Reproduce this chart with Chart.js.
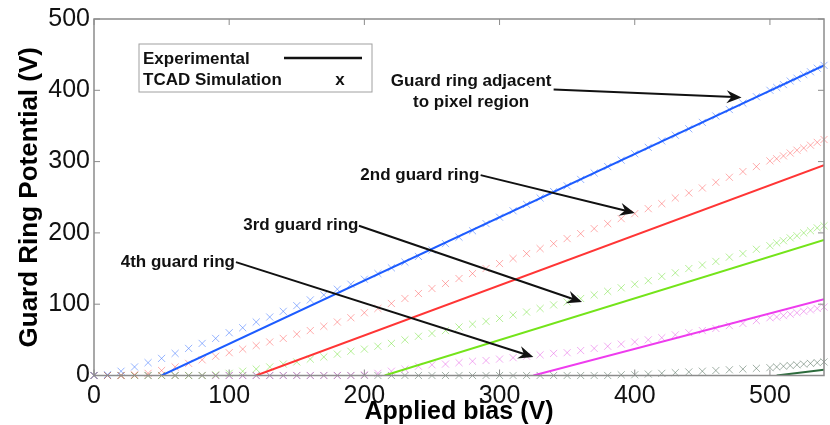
<!DOCTYPE html>
<html>
<head>
<meta charset="utf-8">
<script src="https://cdn.jsdelivr.net/npm/chart.js@4"></script>
<style>
  html, body { margin: 0; padding: 0; background: #fff; }
  #wrap { width: 830px; height: 425px; }
</style>
</head>
<body>
<div id="wrap"><canvas id="myChart" width="830" height="425"></canvas></div>
<script>
// simulated (TCAD) points, applied bias in V
const simBias = [0,10,20,30,40,50,60,70,80,90,
	100,110,120,130,140,150,160,170,180,190,
	200,210,220,230,240,250,260,270,280,290,
	300,310,320,330,340,350,360,370,380,390,
	400,410,420,430,440,450,460,470,480,490,
	500,505,510,515,520,525,530,535,540];
const simRing1 = [0,1,6,12,18,24,31,38,45,52,
	60,67,75,82,90,98,106,113,121,128,
	135,143,151,159,167,176,185,194,203,213,
	222,231,240,249,258,266,275,284,293,302,
	311,320,329,337,346,355,364,373,382,391,
	400,404,408,413,417,422,426,431,435];
const simRing2 = [0,0,0,1,3,7,12,17,22,27,
	32,37,42,47,52,58,63,69,75,81,
	88,94,101,108,115,122,129,136,143,150,
	157,164,171,178,185,192,199,206,213,220,
	227,234,241,249,256,263,271,278,286,293,
	301,304,308,312,316,319,323,327,331];
const simRing3 = [0,0,0,0,0,0,0,0,0,1,
	3,6,9,12,16,19,23,26,30,34,
	37,41,45,50,55,59,63,68,72,76,
	80,85,89,94,99,103,108,113,118,123,
	128,133,139,144,150,155,160,166,171,177,
	182,186,189,193,196,200,203,207,210];
const simRing4 = [0,0,0,0,0,0,0,0,0,0,
	0,0,0,0,0,0,0,0,0,0,
	1,3,6,9,13,15,16,18,20,21,
	23,25,27,29,31,32,35,38,41,44,
	47,50,53,57,60,63,66,70,73,77,
	81,82,84,86,88,90,92,94,96];
const simRing5 = [0,0,0,0,0,0,0,0,0,0,
	0,0,0,0,0,0,0,0,0,0,
	0,0,0,0,0,0,0,0,0,0,
	0,0,0,0,0,0,0,0,0,1,
	1,2,3,4,5,6,7,8,9,10,
	11,12,13,14,15,16,17,18,19];

// experimental lines (start of rise, end of sweep)
const expRing1X = [50, 540];   const expRing1Y = [0, 435];
const expRing2X = [120, 540];  const expRing2Y = [0, 295];
const expRing3X = [215, 540];  const expRing3Y = [0, 190];
const expRing4X = [325, 540];  const expRing4Y = [0, 107];
const expRing5X = [505, 540];  const expRing5Y = [0, 8];

const xTicks = [0, 100, 200, 300, 400, 500];
const yTicks = [0, 100, 200, 300, 400, 500];

const FONT = '"Liberation Sans", Arial, Helvetica, sans-serif';

function pts(xs, ys) {
	return xs.map((x, i) => ({ x: x, y: ys[i] }));
}

function simSet(ys, color) {
	return {
		type: 'scatter', data: pts(simBias, ys), showLine: false,
		pointStyle: 'crossRot', pointRadius: 5, pointBorderWidth: 1,
		borderColor: color, backgroundColor: color, order: 2, clip: false
	};
}
function expSet(xs, ys, color) {
	return {
		type: 'line', data: pts(xs, ys), borderColor: color, borderWidth: 2,
		pointRadius: 0, fill: false, tension: 0, order: 1
	};
}

// annotations: text and arrows, in data coordinates
const notes = [
	{ lines: ['Guard ring adjacent', 'to pixel region'], x: 279, y: 413, from: [340, 401], to: [479, 390] },
	{ lines: ['2nd guard ring'], x: 241, y: 281, from: [286, 281], to: [400, 228] },
	{ lines: ['3rd guard ring'], x: 153, y: 210, from: [196, 210], to: [361, 103] },
	{ lines: ['4th guard ring'], x: 62, y: 159, from: [105, 159], to: [325, 26] }
];

function arrow(ctx, x1, y1, x2, y2) {
	const a = Math.atan2(y2 - y1, x2 - x1);
	const len = 15, w = 6.5;
	const c = Math.cos(a), s = Math.sin(a);
	ctx.beginPath();
	ctx.moveTo(x1, y1);
	ctx.lineTo(x2 - c * 8, y2 - s * 8);
	ctx.stroke();
	ctx.beginPath();
	ctx.moveTo(x2, y2);
	ctx.lineTo(x2 - len * c + w * s, y2 - len * s - w * c);
	ctx.lineTo(x2 - 10 * c, y2 - 10 * s);
	ctx.lineTo(x2 - len * c - w * s, y2 - len * s + w * c);
	ctx.closePath();
	ctx.fill();
}

const extras = {
	id: 'extras',
	afterDraw(chart) {
		const ctx = chart.ctx;
		const a = chart.chartArea;
		const xs = chart.scales.x, ys = chart.scales.y;
		ctx.save();
		// frame
		ctx.strokeStyle = '#8c8c8c';
		ctx.lineWidth = 1.5;
		ctx.strokeRect(a.left, a.top, a.right - a.left, a.bottom - a.top);
		// inward ticks on all sides
		ctx.lineWidth = 1;
		ctx.beginPath();
		xTicks.forEach(v => {
			const px = xs.getPixelForValue(v);
			ctx.moveTo(px, a.bottom); ctx.lineTo(px, a.bottom - 6);
			ctx.moveTo(px, a.top); ctx.lineTo(px, a.top + 6);
		});
		yTicks.forEach(v => {
			const py = ys.getPixelForValue(v);
			ctx.moveTo(a.left, py); ctx.lineTo(a.left + 6, py);
			ctx.moveTo(a.right, py); ctx.lineTo(a.right - 6, py);
		});
		ctx.stroke();

		// legend box
		const lx = a.left + 45, ly = a.top + 25;
		ctx.fillStyle = '#fff';
		ctx.fillRect(lx, ly, 233, 48);
		ctx.strokeStyle = '#a0a0a0';
		ctx.strokeRect(lx, ly, 233, 48);
		ctx.fillStyle = '#111';
		ctx.font = 'bold 17px ' + FONT;
		ctx.textBaseline = 'middle';
		ctx.textAlign = 'left';
		ctx.fillText('Experimental', lx + 4, ly + 15);
		ctx.fillText('TCAD Simulation', lx + 4, ly + 36);
		ctx.strokeStyle = '#111';
		ctx.lineWidth = 2.5;
		ctx.beginPath();
		ctx.moveTo(lx + 145, ly + 14); ctx.lineTo(lx + 223, ly + 14);
		ctx.stroke();
		ctx.textAlign = 'center';
		ctx.fillText('x', lx + 201, ly + 36);

		// annotations
		ctx.strokeStyle = '#111';
		ctx.fillStyle = '#111';
		ctx.lineWidth = 2;
		notes.forEach(n => {
			const cx = xs.getPixelForValue(n.x), cy = ys.getPixelForValue(n.y);
			ctx.textAlign = 'center';
			n.lines.forEach((t, i) => ctx.fillText(t, cx, cy + i * 21));
			arrow(ctx, xs.getPixelForValue(n.from[0]), ys.getPixelForValue(n.from[1]),
				xs.getPixelForValue(n.to[0]), ys.getPixelForValue(n.to[1]));
		});
		ctx.restore();
	}
};

const ctx = document.getElementById('myChart').getContext('2d');
const myChart = new Chart(ctx, {
	type: 'scatter',
	data: {
		datasets: [
			expSet(expRing1X, expRing1Y, '#1d5cff'),
			expSet(expRing2X, expRing2Y, '#ff3535'),
			expSet(expRing3X, expRing3Y, '#74e41a'),
			expSet(expRing4X, expRing4Y, '#ee3cee'),
			expSet(expRing5X, expRing5Y, '#2c6b3c'),
			simSet(simRing1, 'rgba(80,130,255,0.6)'),
			simSet(simRing2, 'rgba(255,90,90,0.5)'),
			simSet(simRing3, 'rgba(110,225,50,0.5)'),
			simSet(simRing4, 'rgba(230,90,230,0.5)'),
			simSet(simRing5, 'rgba(70,100,80,0.5)')
		]
	},
	options: {
		responsive: false,
		animation: false,
		layout: { padding: { top: 18, right: 3, left: 0, bottom: 0 } },
		plugins: { legend: { display: false }, tooltip: { enabled: false } },
		scales: {
			x: {
				type: 'linear', min: 0, max: 540,
				afterBuildTicks: s => { s.ticks = xTicks.map(v => ({ value: v })); },
				afterFit: s => { s.height = 49.5; },
				grid: { display: false, drawTicks: false },
				border: { display: false },
				ticks: { color: '#111', padding: 6, maxRotation: 0, font: { family: FONT, size: 25 } },
				title: { display: true, text: 'Applied bias (V)', color: '#000', padding: 0,
					font: { family: FONT, size: 25, weight: 'bold', lineHeight: 1 } }
			},
			y: {
				type: 'linear', min: 0, max: 500,
				afterBuildTicks: s => { s.ticks = yTicks.map(v => ({ value: v })); },
				afterFit: s => { s.width = 94; },
				grid: { display: false, drawTicks: false },
				border: { display: false },
				ticks: { color: '#111', padding: 4, font: { family: FONT, size: 25 } },
				title: { display: true, text: 'Guard Ring Potential (V)', color: '#000', padding: { top: 17, bottom: 0 },
					font: { family: FONT, size: 26, weight: 'bold', lineHeight: 1 } }
			}
		}
	},
	plugins: [extras]
});
</script>
</body>
</html>
